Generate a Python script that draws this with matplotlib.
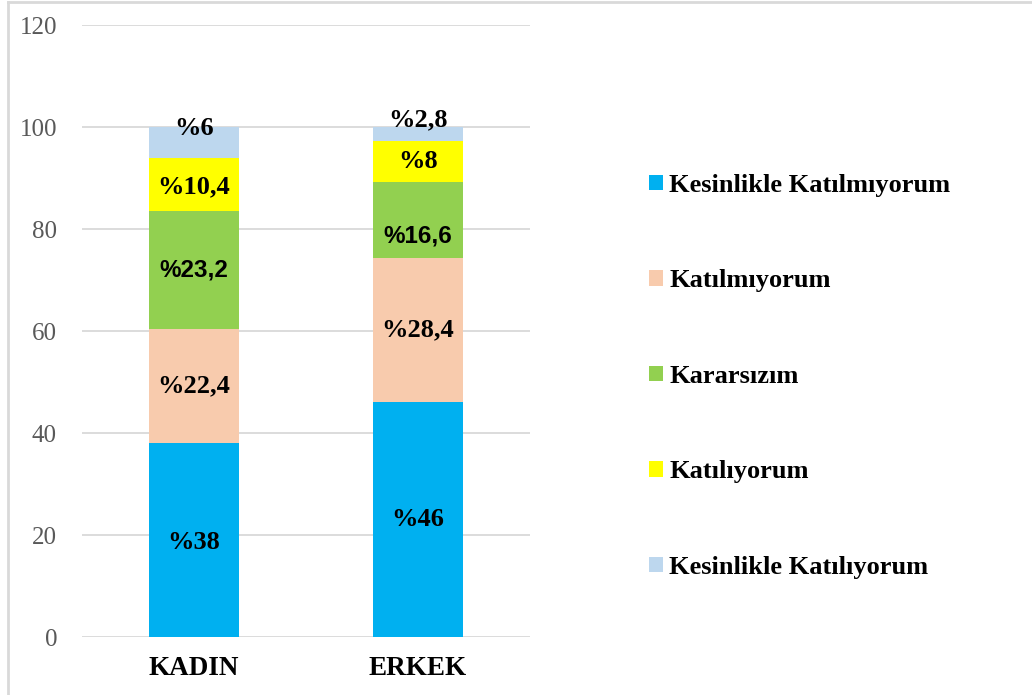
import numpy as np
import matplotlib.pyplot as plt
from matplotlib.patches import Patch
from matplotlib.lines import Line2D

# data
groups = ["KADIN", "ERKEK"]
series = ["Kesinlikle Katılmıyorum", "Katılmıyorum", "Kararsızım",
          "Katılıyorum", "Kesinlikle Katılıyorum"]
kadin = [38, 22.4, 23.2, 10.4, 6]
erkek = [46, 28.4, 14.8, 8, 2.8]
kadin_labels = ["%38", "%22,4", "%23,2", "%10,4", "%6"]
erkek_labels = ["%46", "%28,4", "%16,6", "%8", "%2,8"]

colors = ["#00B0F0", "#F8CBAD", "#92D050", "#FFFF00", "#BDD7EE"]
# vertical nudges (points) for a few labels, as in the original
kadin_dy = [-2, 0, 0, -2, 10]
erkek_dy = [0, 0, -12, 0, 10]
sans_idx = 2  # green labels use a sans face in the original

plt.rcParams['font.family'] = ['Liberation Serif', 'DejaVu Serif']

fig = plt.figure(figsize=(10.32, 6.95), dpi=100)
ax = fig.add_axes([82 / 1032, 1 - 637 / 695, 448 / 1032, 612 / 695])

x = np.arange(len(groups))
vals = np.array([kadin, erkek])
bottom = np.zeros(len(groups))
for i, name in enumerate(series):
    h = vals[:, i]
    ax.bar(x, h, 0.4, bottom=bottom, color=colors[i], zorder=2)
    labs = [kadin_labels[i], erkek_labels[i]]
    dys = [kadin_dy[i], erkek_dy[i]]
    for j in range(len(groups)):
        fam = ['Liberation Sans'] if i == sans_idx else ['Liberation Serif']
        ax.annotate(labs[j], (x[j], bottom[j] + h[j] / 2), xytext=(0, dys[j]),
                    textcoords='offset points', ha='center', va='center',
                    fontsize=19 if i != sans_idx else 17.5, fontweight='bold',
                    family=fam, color='black', zorder=3)
    bottom += h

ax.set_xlim(-0.5, 1.5)
ax.set_ylim(0, 120)
ax.set_yticks(range(0, 121, 20))
ax.yaxis.grid(True, color='#D9D9D9', linewidth=1.3, zorder=0)
ax.set_axisbelow(True)
for s in ax.spines.values():
    s.set_visible(False)
ax.tick_params(axis='y', length=0, pad=18, labelsize=18, labelcolor='#595959')
ax.tick_params(axis='x', length=0, pad=14, labelsize=19.5)
ax.set_xticks(x)
ax.set_xticklabels(groups, fontweight='bold')

handles = [Patch(facecolor=c, edgecolor='none') for c in colors]
leg = fig.legend(handles, series, loc='upper left',
                 bbox_to_anchor=(625 / 1032, 1 - 150 / 695),
                 frameon=False, handlelength=0.53, handleheight=0.53,
                 handletextpad=0.25, labelspacing=2.75,
                 prop={'family': 'Liberation Serif', 'weight': 'bold', 'size': 19})

# thin frame lines at the left and top, like the chart border
fig.add_artist(Line2D([8 / 1032, 8 / 1032], [0, 1 - 2 / 695],
                      transform=fig.transFigure, color='#D9D9D9', linewidth=2))
fig.add_artist(Line2D([8 / 1032, 1], [1 - 2 / 695, 1 - 2 / 695],
                      transform=fig.transFigure, color='#D9D9D9', linewidth=2))

fig.savefig('out.png', dpi=100)
